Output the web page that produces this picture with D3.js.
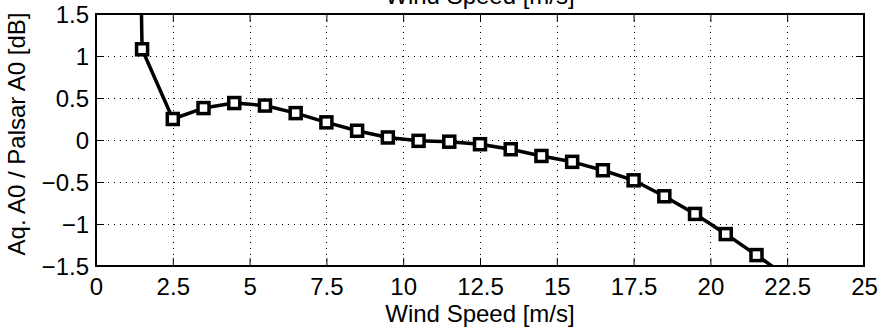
<!DOCTYPE html>
<html>
<head>
<meta charset="utf-8">
<script src="https://cdn.jsdelivr.net/npm/d3@7/dist/d3.min.js"></script>
<style>
  html, body { margin: 0; padding: 0; background: #fff; }
  svg { display: block; }
  text { font-family: "Liberation Sans", Arial, Helvetica, sans-serif; fill: #000; }
</style>
</head>
<body>
<svg id="chart" width="879" height="330"></svg>
<script>
const windSpeed = [0.5, 1.5, 2.5, 3.5, 4.5, 5.5, 6.5, 7.5, 8.5, 9.5, 10.5, 11.5, 12.5, 13.5, 14.5, 15.5, 16.5, 17.5, 18.5, 19.5, 20.5, 21.5, 22.5];
const ratioDb = [22, 1.08, 0.25, 0.38, 0.44, 0.41, 0.32, 0.21, 0.11, 0.03, -0.01, -0.02, -0.05, -0.11, -0.19, -0.26, -0.36, -0.48, -0.67, -0.88, -1.12, -1.37, -1.63];
const xTicks = [0, 2.5, 5, 7.5, 10, 12.5, 15, 17.5, 20, 22.5, 25];
const yTicks = [-1.5, -1, -0.5, 0, 0.5, 1, 1.5];
const xLabel = "Wind Speed [m/s]";
const yLabel = "Aq. A0 / Palsar A0 [dB]";
const titleText = "Wind Speed [m/s]";

const FS = 24;
const svg = d3.select("#chart");
const L = 96, R = 864, T = 14, B = 266;
const x = d3.scaleLinear().domain([0, 25]).range([L, R]);
const y = d3.scaleLinear().domain([-1.5, 1.5]).range([B, T]);
const fmt = v => (v < 0 ? "\u2212" + Math.abs(v) : String(v));

// grid
const grid = svg.append("g").attr("stroke", "#000").attr("stroke-width", 1).attr("stroke-dasharray", "1,5");
grid.selectAll("line.gx").data(xTicks.slice(1, -1)).join("line")
  .attr("x1", d => Math.round(x(d)) + 0.5).attr("x2", d => Math.round(x(d)) + 0.5)
  .attr("y1", T).attr("y2", B);
grid.selectAll("line.gy").data(yTicks.slice(1, -1)).join("line")
  .attr("y1", d => Math.round(y(d)) + 0.5).attr("y2", d => Math.round(y(d)) + 0.5)
  .attr("x1", L).attr("x2", R);

// axes with inward ticks
const tickLen = 8;
const xb = svg.append("g").attr("transform", `translate(0,${B})`)
  .call(d3.axisBottom(x).tickValues(xTicks).tickFormat(fmt).tickSizeInner(-tickLen).tickSizeOuter(0));
const xt = svg.append("g").attr("transform", `translate(0,${T})`)
  .call(d3.axisTop(x).tickValues(xTicks).tickFormat("").tickSizeInner(-tickLen).tickSizeOuter(0));
const yl = svg.append("g").attr("transform", `translate(${L},0)`)
  .call(d3.axisLeft(y).tickValues(yTicks).tickFormat(fmt).tickSizeInner(-tickLen).tickSizeOuter(0));
const yr = svg.append("g").attr("transform", `translate(${R},0)`)
  .call(d3.axisRight(y).tickValues(yTicks).tickFormat("").tickSizeInner(-tickLen).tickSizeOuter(0));
[xb, xt, yl, yr].forEach(g => {
  g.select(".domain").remove();
  g.selectAll("line").attr("stroke", "#000").attr("stroke-width", 1);
  g.selectAll("text").attr("font-size", FS).style("font-family", '"Liberation Sans", Arial, sans-serif');
});
xb.selectAll("text").attr("y", 29).attr("dy", 0);
yl.selectAll("text").attr("x", -7).attr("dy", "0.36em");

// frame
svg.append("rect").attr("x", L).attr("y", T).attr("width", R - L).attr("height", B - T)
  .attr("fill", "none").attr("stroke", "#000").attr("stroke-width", 2);

// clip
svg.append("clipPath").attr("id", "clip").append("rect")
  .attr("x", L).attr("y", T).attr("width", R - L).attr("height", B - T);

const data = windSpeed.map((w, i) => ({ w, v: ratioDb[i] }));
const plot = svg.append("g").attr("clip-path", "url(#clip)");
plot.append("path").datum(data)
  .attr("fill", "none").attr("stroke", "#000").attr("stroke-width", 3.5).attr("stroke-linejoin", "round")
  .attr("d", d3.line().x(d => x(d.w)).y(d => y(d.v)));
const ms = 11;
plot.selectAll("rect.m").data(data).join("rect")
  .attr("x", d => x(d.w) - ms / 2).attr("y", d => y(d.v) - ms / 2)
  .attr("width", ms).attr("height", ms)
  .attr("fill", "#fff").attr("stroke", "#000").attr("stroke-width", 3.5);

// labels
svg.append("text").attr("x", (L + R) / 2).attr("y", 322).attr("text-anchor", "middle")
  .attr("font-size", FS).text(xLabel);
svg.append("text").attr("transform", `translate(25,134) rotate(-90)`)
  .attr("text-anchor", "middle").attr("font-size", FS).text(yLabel);
svg.append("text").attr("x", (L + R) / 2).attr("y", 4).attr("text-anchor", "middle")
  .attr("font-size", FS).text(titleText);
</script>
</body>
</html>
